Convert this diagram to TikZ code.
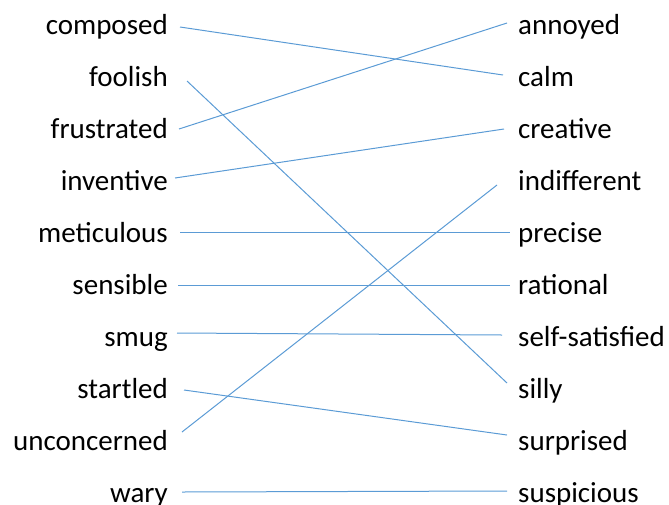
\documentclass[tikz,border=0pt]{standalone}
\usepackage{fontspec}
\setmainfont{Carlito}
\usepackage{tikz}
\usepackage{xcolor}
\definecolor{linkblue}{HTML}{5B9BD5}

\begin{document}
\begin{tikzpicture}[
    x=1pt, y=-1pt,
    font=\fontsize{29}{34}\selectfont,
    lword/.style={anchor=east, inner xsep=12pt, inner ysep=0pt, text height=20pt, text depth=0pt},
    rword/.style={anchor=west, inner xsep=10pt, inner ysep=0pt, text height=20pt, text depth=0pt},
    link/.style={draw=linkblue, line width=1pt},
]
\useasboundingbox (0,0) rectangle (669,504);

% Left words
\node[lword] (composed) at (180,24) {composed};
\node[lword] (foolish) at (180,76) {foolish};
\node[lword] (frustrated) at (180,128) {frustrated};
\node[lword] (inventive) at (180,180) {inventive};
\node[lword] (meticulous) at (180,232) {meticulous};
\node[lword] (sensible) at (180,284) {sensible};
\node[lword] (smug) at (180,336) {smug};
\node[lword] (startled) at (180,388) {startled};
\node[lword] (unconcerned) at (180,440) {unconcerned};
\node[lword] (wary) at (180,492) {wary};

% Right words
\node[rword] (annoyed) at (508,24) {annoyed};
\node[rword] (calm) at (508,76) {calm};
\node[rword] (creative) at (508,128) {creative};
\node[rword] (indifferent) at (508,180) {indifferent};
\node[rword] (precise) at (508,232) {precise};
\node[rword] (rational) at (508,284) {rational};
\node[rword] (selfsat) at (508,336) {self-satisfied};
\node[rword] (silly) at (508,388) {silly};
\node[rword] (surprised) at (508,440) {surprised};
\node[rword] (suspicious) at (508,492) {suspicious};

% Edges
\draw[link] ([shift={(0,3)}]composed.east) -- ([shift={(-5,-1)}]calm.west);
\draw[link] ([shift={(7,5)}]foolish.east) -- ([shift={(-1,-5)}]silly.west);
\draw[link] ([shift={(-1,1)}]frustrated.east) -- ([shift={(-1,-1)}]annoyed.west);
\draw[link] ([shift={(-5,-2)}]inventive.east) -- ([shift={(-4,1)}]creative.west);
\draw[link] (meticulous.east) -- ([shift={(2,0)}]precise.west);
\draw[link] ([shift={(-2,1)}]sensible.east) -- ([shift={(2,1)}]rational.west);
\draw[link] ([shift={(-3,-3)}]smug.east) -- ([shift={(-6,-1)}]selfsat.west);
\draw[link] ([shift={(4,2)}]startled.east) -- ([shift={(-1,-5)}]surprised.west);
\draw[link] ([shift={(2,-8)}]unconcerned.east) -- ([shift={(-11,5)}]indifferent.west);
\draw[link] ([shift={(2,0)}]wary.east) -- ([shift={(-1,-1)}]suspicious.west);

\end{tikzpicture}
\end{document}
